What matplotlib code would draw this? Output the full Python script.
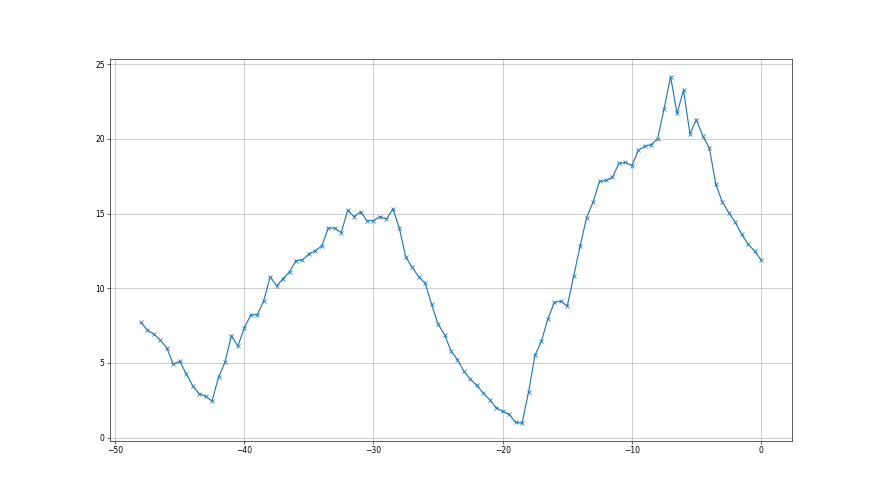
import numpy as np
import matplotlib
matplotlib.use("Agg")
import matplotlib.pyplot as plt

# x positions: half-unit steps from -48 to 0
x_start, x_stop, x_step = -48.0, 0.0, 0.5
x = np.arange(x_start, x_stop + x_step / 2, x_step)

values = [
    7.71, 7.19, 6.92, 6.52, 6.00, 4.90, 5.10, 4.28, 3.47, 2.94,
    2.76, 2.44, 4.05, 5.04, 6.83, 6.12, 7.35, 8.22, 8.22, 9.16,
    10.77, 10.15, 10.64, 11.11, 11.85, 11.90, 12.30, 12.52, 12.84, 14.03,
    14.03, 13.73, 15.21, 14.80, 15.12, 14.52, 14.52, 14.80, 14.63, 15.32,
    14.03, 12.08, 11.40, 10.77, 10.33, 8.92, 7.59, 6.90, 5.80, 5.22,
    4.44, 3.90, 3.49, 2.98, 2.53, 2.00, 1.75, 1.55, 1.03, 0.96,
    3.02, 5.51, 6.45, 7.95, 9.05, 9.14, 8.80, 10.82, 12.84, 14.74,
    15.77, 17.16, 17.22, 17.43, 18.37, 18.43, 18.21, 19.24, 19.51, 19.62,
    20.03, 22.04, 24.17, 21.71, 23.27, 20.34, 21.30, 20.18, 19.40, 16.98,
    15.79, 15.07, 14.43, 13.62, 12.95, 12.50, 11.90,
]

plt.figure(figsize=(16, 9), dpi=55)
plt.plot(x, values, marker="x")
plt.grid(True)
plt.savefig("out.png", dpi=55)
